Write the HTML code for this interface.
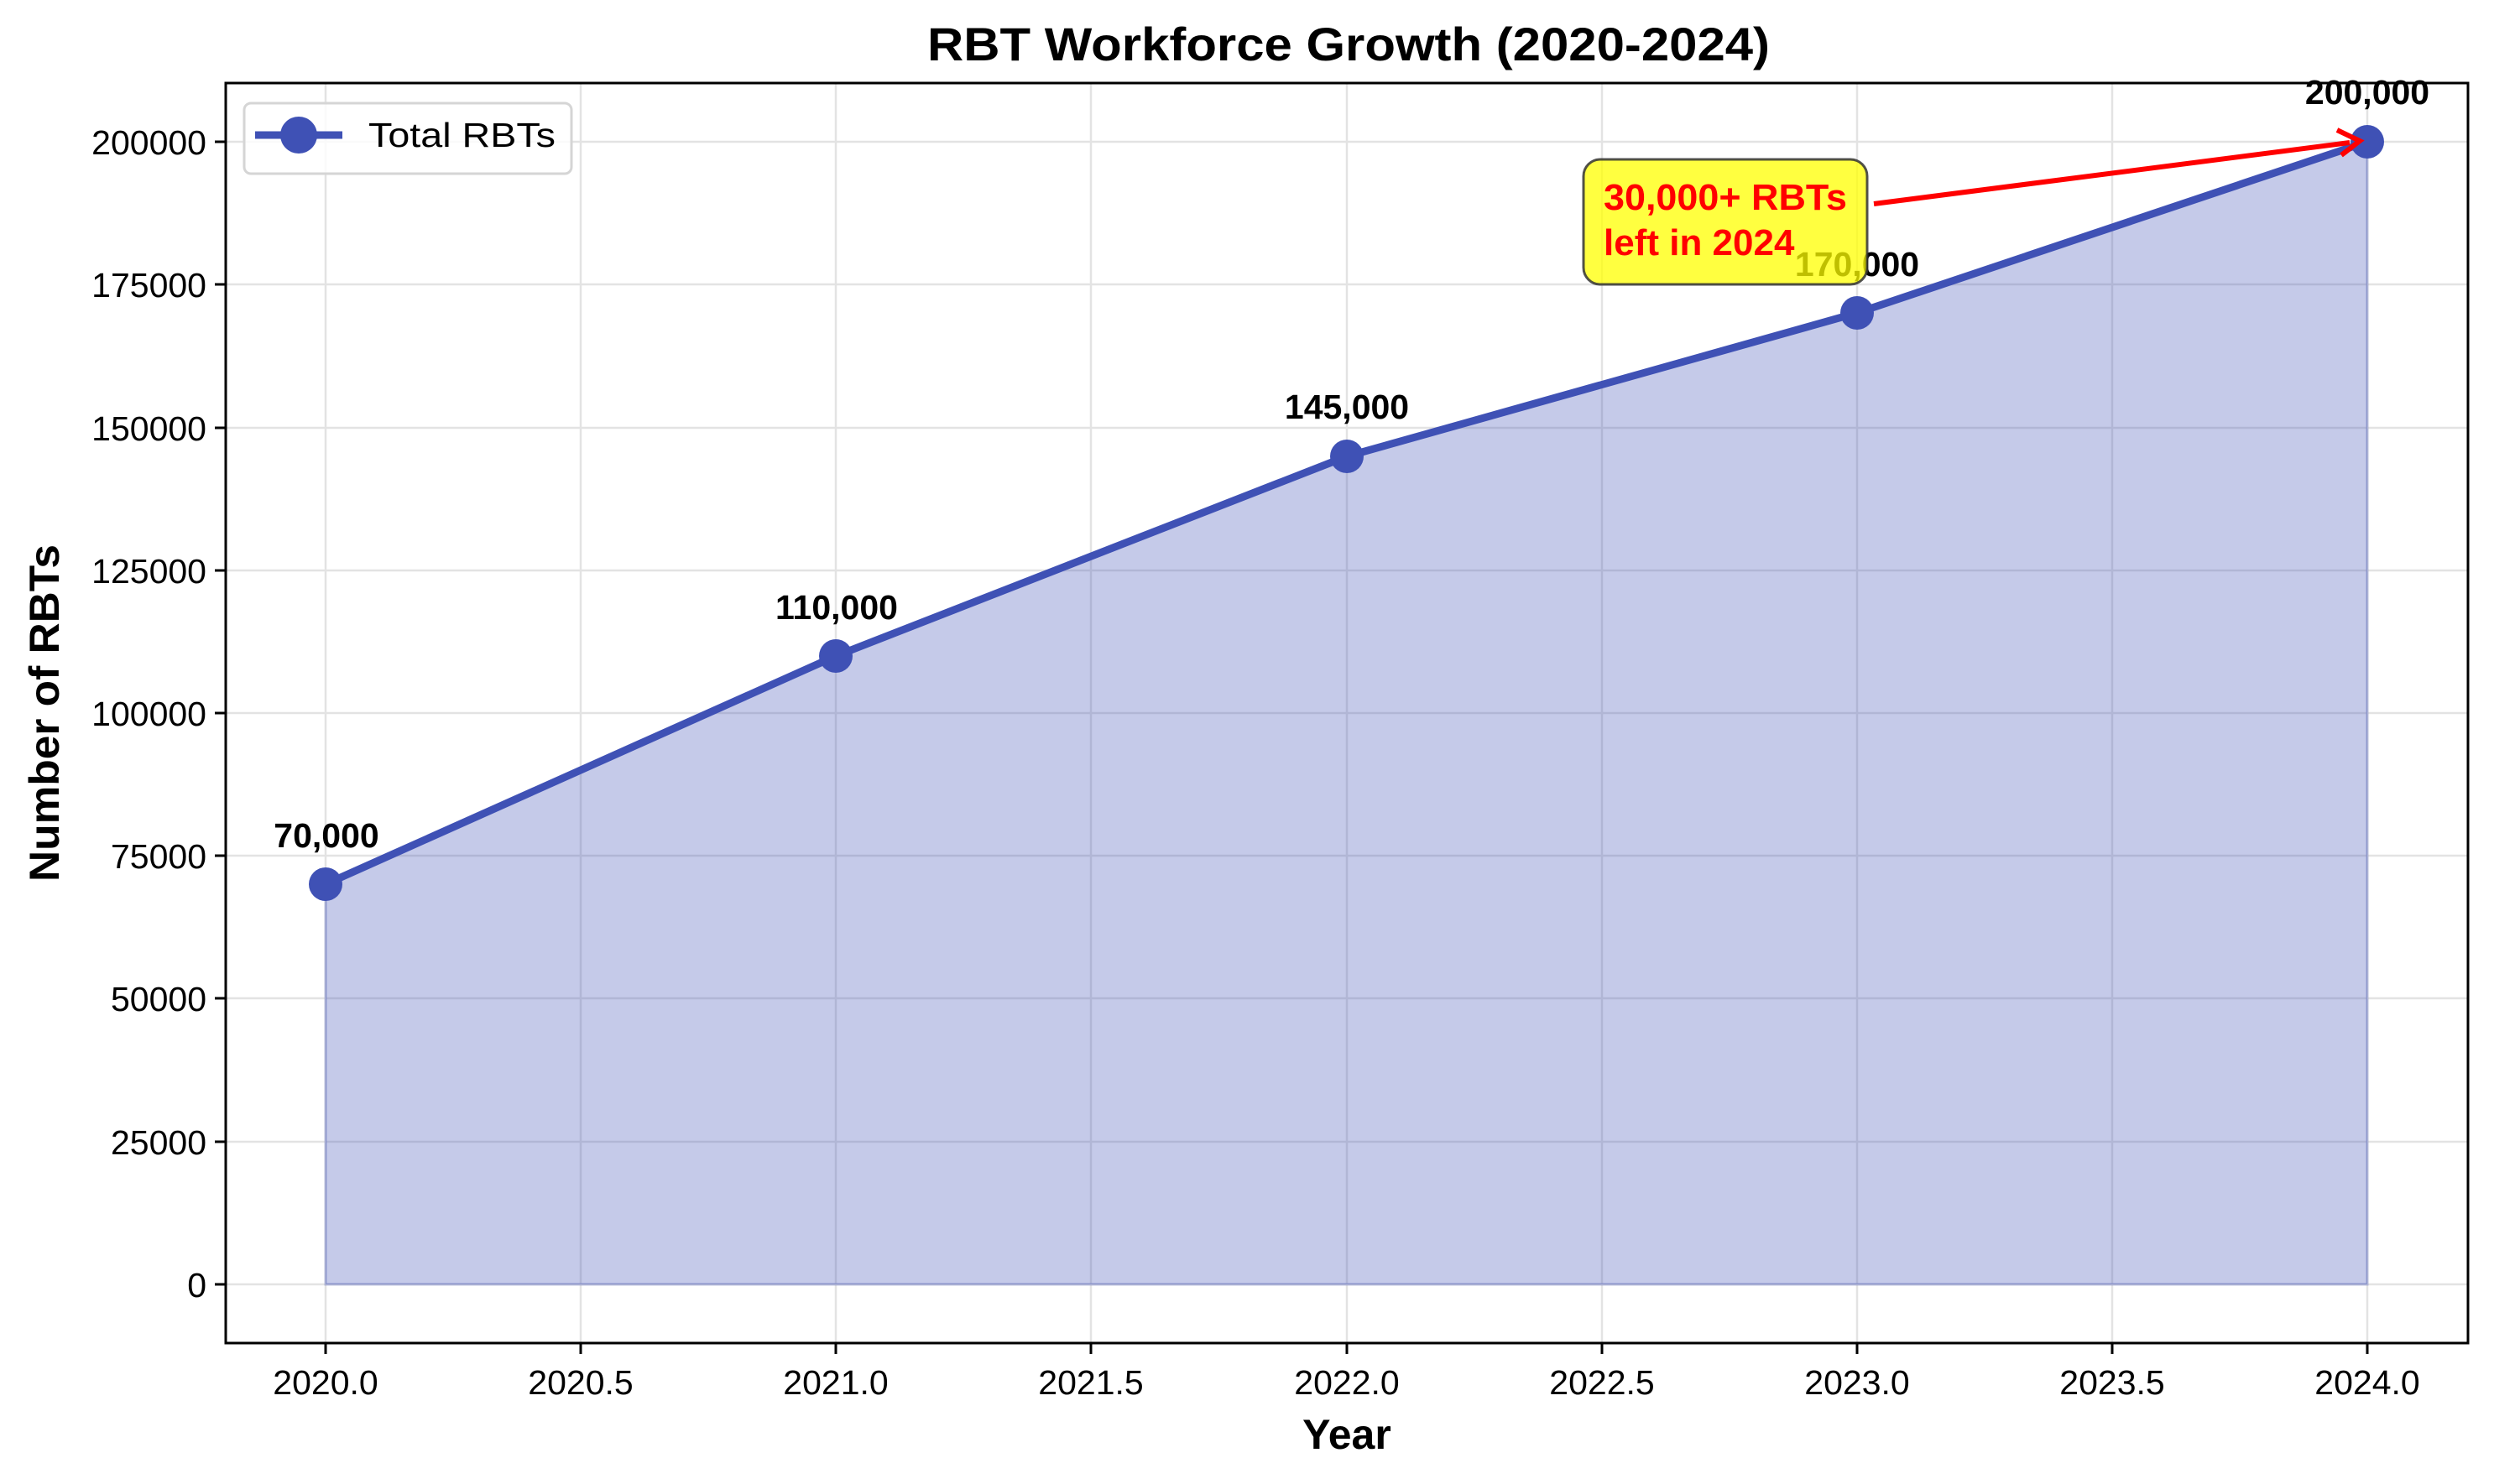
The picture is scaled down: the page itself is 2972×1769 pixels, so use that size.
<!DOCTYPE html>
<html><head><meta charset="utf-8"><style>
html,body{margin:0;padding:0;background:#fff}
svg{display:block}
text{font-family:"Liberation Sans",sans-serif}
</style></head><body>
<svg width="2972" height="1769" viewBox="0 0 2972 1769" xmlns="http://www.w3.org/2000/svg">
<rect width="2972" height="1769" fill="#fff"/>
<!-- grid -->
<g stroke="#e3e3e3" stroke-width="2.5">
<line x1="388" y1="99" x2="388" y2="1601"/><line x1="692" y1="99" x2="692" y2="1601"/>
<line x1="996" y1="99" x2="996" y2="1601"/><line x1="1300" y1="99" x2="1300" y2="1601"/>
<line x1="1605" y1="99" x2="1605" y2="1601"/><line x1="1909" y1="99" x2="1909" y2="1601"/>
<line x1="2213" y1="99" x2="2213" y2="1601"/><line x1="2517" y1="99" x2="2517" y2="1601"/>
<line x1="2821" y1="99" x2="2821" y2="1601"/>
<line x1="269" y1="1531" x2="2941" y2="1531"/><line x1="269" y1="1361" x2="2941" y2="1361"/>
<line x1="269" y1="1190" x2="2941" y2="1190"/><line x1="269" y1="1020" x2="2941" y2="1020"/>
<line x1="269" y1="850" x2="2941" y2="850"/><line x1="269" y1="680" x2="2941" y2="680"/>
<line x1="269" y1="510" x2="2941" y2="510"/><line x1="269" y1="339" x2="2941" y2="339"/>
<line x1="269" y1="169" x2="2941" y2="169"/>
</g>
<!-- fill -->
<polygon points="388,1054 996,782 1605,544 2213,373 2821,169 2821,1531 388,1531" fill="#3f51b5" fill-opacity="0.3" stroke="#3f51b5" stroke-opacity="0.3" stroke-width="3"/>
<polyline points="388,1054 996,782 1605,544 2213,373 2821,169" fill="none" stroke="#3f51b5" stroke-width="9" stroke-linejoin="round"/>
<g fill="#3f51b5"><circle cx="388" cy="1054" r="20"/><circle cx="996" cy="782" r="20"/><circle cx="1605" cy="544" r="20"/><circle cx="2213" cy="373" r="20"/><circle cx="2821" cy="169" r="20"/></g>
<!-- data labels -->
<g font-size="41" font-weight="bold" text-anchor="middle" fill="#000">
<text x="389" y="1010">70,000</text>
<text x="997" y="738">110,000</text>
<text x="1605" y="499">145,000</text>
<text x="2213" y="329">170,000</text>
<text x="2821" y="124">200,000</text>
</g>
<!-- spines -->
<rect x="269" y="99" width="2672" height="1502" fill="none" stroke="#000" stroke-width="3"/>
<!-- ticks -->
<g stroke="#000" stroke-width="3">
<line x1="388" y1="1601" x2="388" y2="1614"/><line x1="692" y1="1601" x2="692" y2="1614"/>
<line x1="996" y1="1601" x2="996" y2="1614"/><line x1="1300" y1="1601" x2="1300" y2="1614"/>
<line x1="1605" y1="1601" x2="1605" y2="1614"/><line x1="1909" y1="1601" x2="1909" y2="1614"/>
<line x1="2213" y1="1601" x2="2213" y2="1614"/><line x1="2517" y1="1601" x2="2517" y2="1614"/>
<line x1="2821" y1="1601" x2="2821" y2="1614"/>
<line x1="256" y1="1531" x2="269" y2="1531"/><line x1="256" y1="1361" x2="269" y2="1361"/>
<line x1="256" y1="1190" x2="269" y2="1190"/><line x1="256" y1="1020" x2="269" y2="1020"/>
<line x1="256" y1="850" x2="269" y2="850"/><line x1="256" y1="680" x2="269" y2="680"/>
<line x1="256" y1="510" x2="269" y2="510"/><line x1="256" y1="339" x2="269" y2="339"/>
<line x1="256" y1="169" x2="269" y2="169"/>
</g>
<g font-size="41" text-anchor="middle" fill="#000">
<text x="388" y="1662">2020.0</text><text x="692" y="1662">2020.5</text>
<text x="996" y="1662">2021.0</text><text x="1300" y="1662">2021.5</text>
<text x="1605" y="1662">2022.0</text><text x="1909" y="1662">2022.5</text>
<text x="2213" y="1662">2023.0</text><text x="2517" y="1662">2023.5</text>
<text x="2821" y="1662">2024.0</text>
</g>
<g font-size="41" text-anchor="end" fill="#000">
<text x="246" y="1546">0</text><text x="246" y="1376">25000</text>
<text x="246" y="1205">50000</text><text x="246" y="1035">75000</text>
<text x="246" y="865">100000</text><text x="246" y="695">125000</text>
<text x="246" y="525">150000</text><text x="246" y="354">175000</text>
<text x="246" y="184">200000</text>
</g>
<!-- axis labels -->
<text x="1605" y="1727" font-size="50" font-weight="bold" text-anchor="middle">Year</text>
<text transform="translate(70,850) rotate(-90)" font-size="50" font-weight="bold" text-anchor="middle" textLength="402" lengthAdjust="spacingAndGlyphs">Number of RBTs</text>
<text x="1607" y="72" font-size="56" font-weight="bold" text-anchor="middle" textLength="1004" lengthAdjust="spacingAndGlyphs">RBT Workforce Growth (2020-2024)</text>
<!-- legend -->
<rect x="291" y="123" width="390" height="84" rx="8" fill="#fff" fill-opacity="0.8" stroke="#d5d5d5" stroke-width="3"/>
<line x1="304" y1="161" x2="408" y2="161" stroke="#3f51b5" stroke-width="9"/>
<circle cx="356" cy="161" r="22" fill="#3f51b5"/>
<text x="439" y="175" font-size="41" textLength="223" lengthAdjust="spacingAndGlyphs">Total RBTs</text>
<!-- annotation -->
<rect x="1887" y="190" width="338" height="149" rx="20" fill="#ffff00" fill-opacity="0.75" stroke="#333" stroke-opacity="0.85" stroke-width="3"/>
<g font-size="44" font-weight="bold" fill="#ff0000">
<text x="1911" y="250" textLength="290" lengthAdjust="spacingAndGlyphs">30,000+ RBTs</text>
<text x="1911" y="304">left in 2024</text>
</g>
<line x1="2233" y1="243" x2="2800" y2="170" stroke="#ff0000" stroke-width="6"/>
<polyline points="2785,155 2812,168 2790,185" fill="none" stroke="#ff0000" stroke-width="6" stroke-linejoin="miter"/>
</svg>
</body></html>
